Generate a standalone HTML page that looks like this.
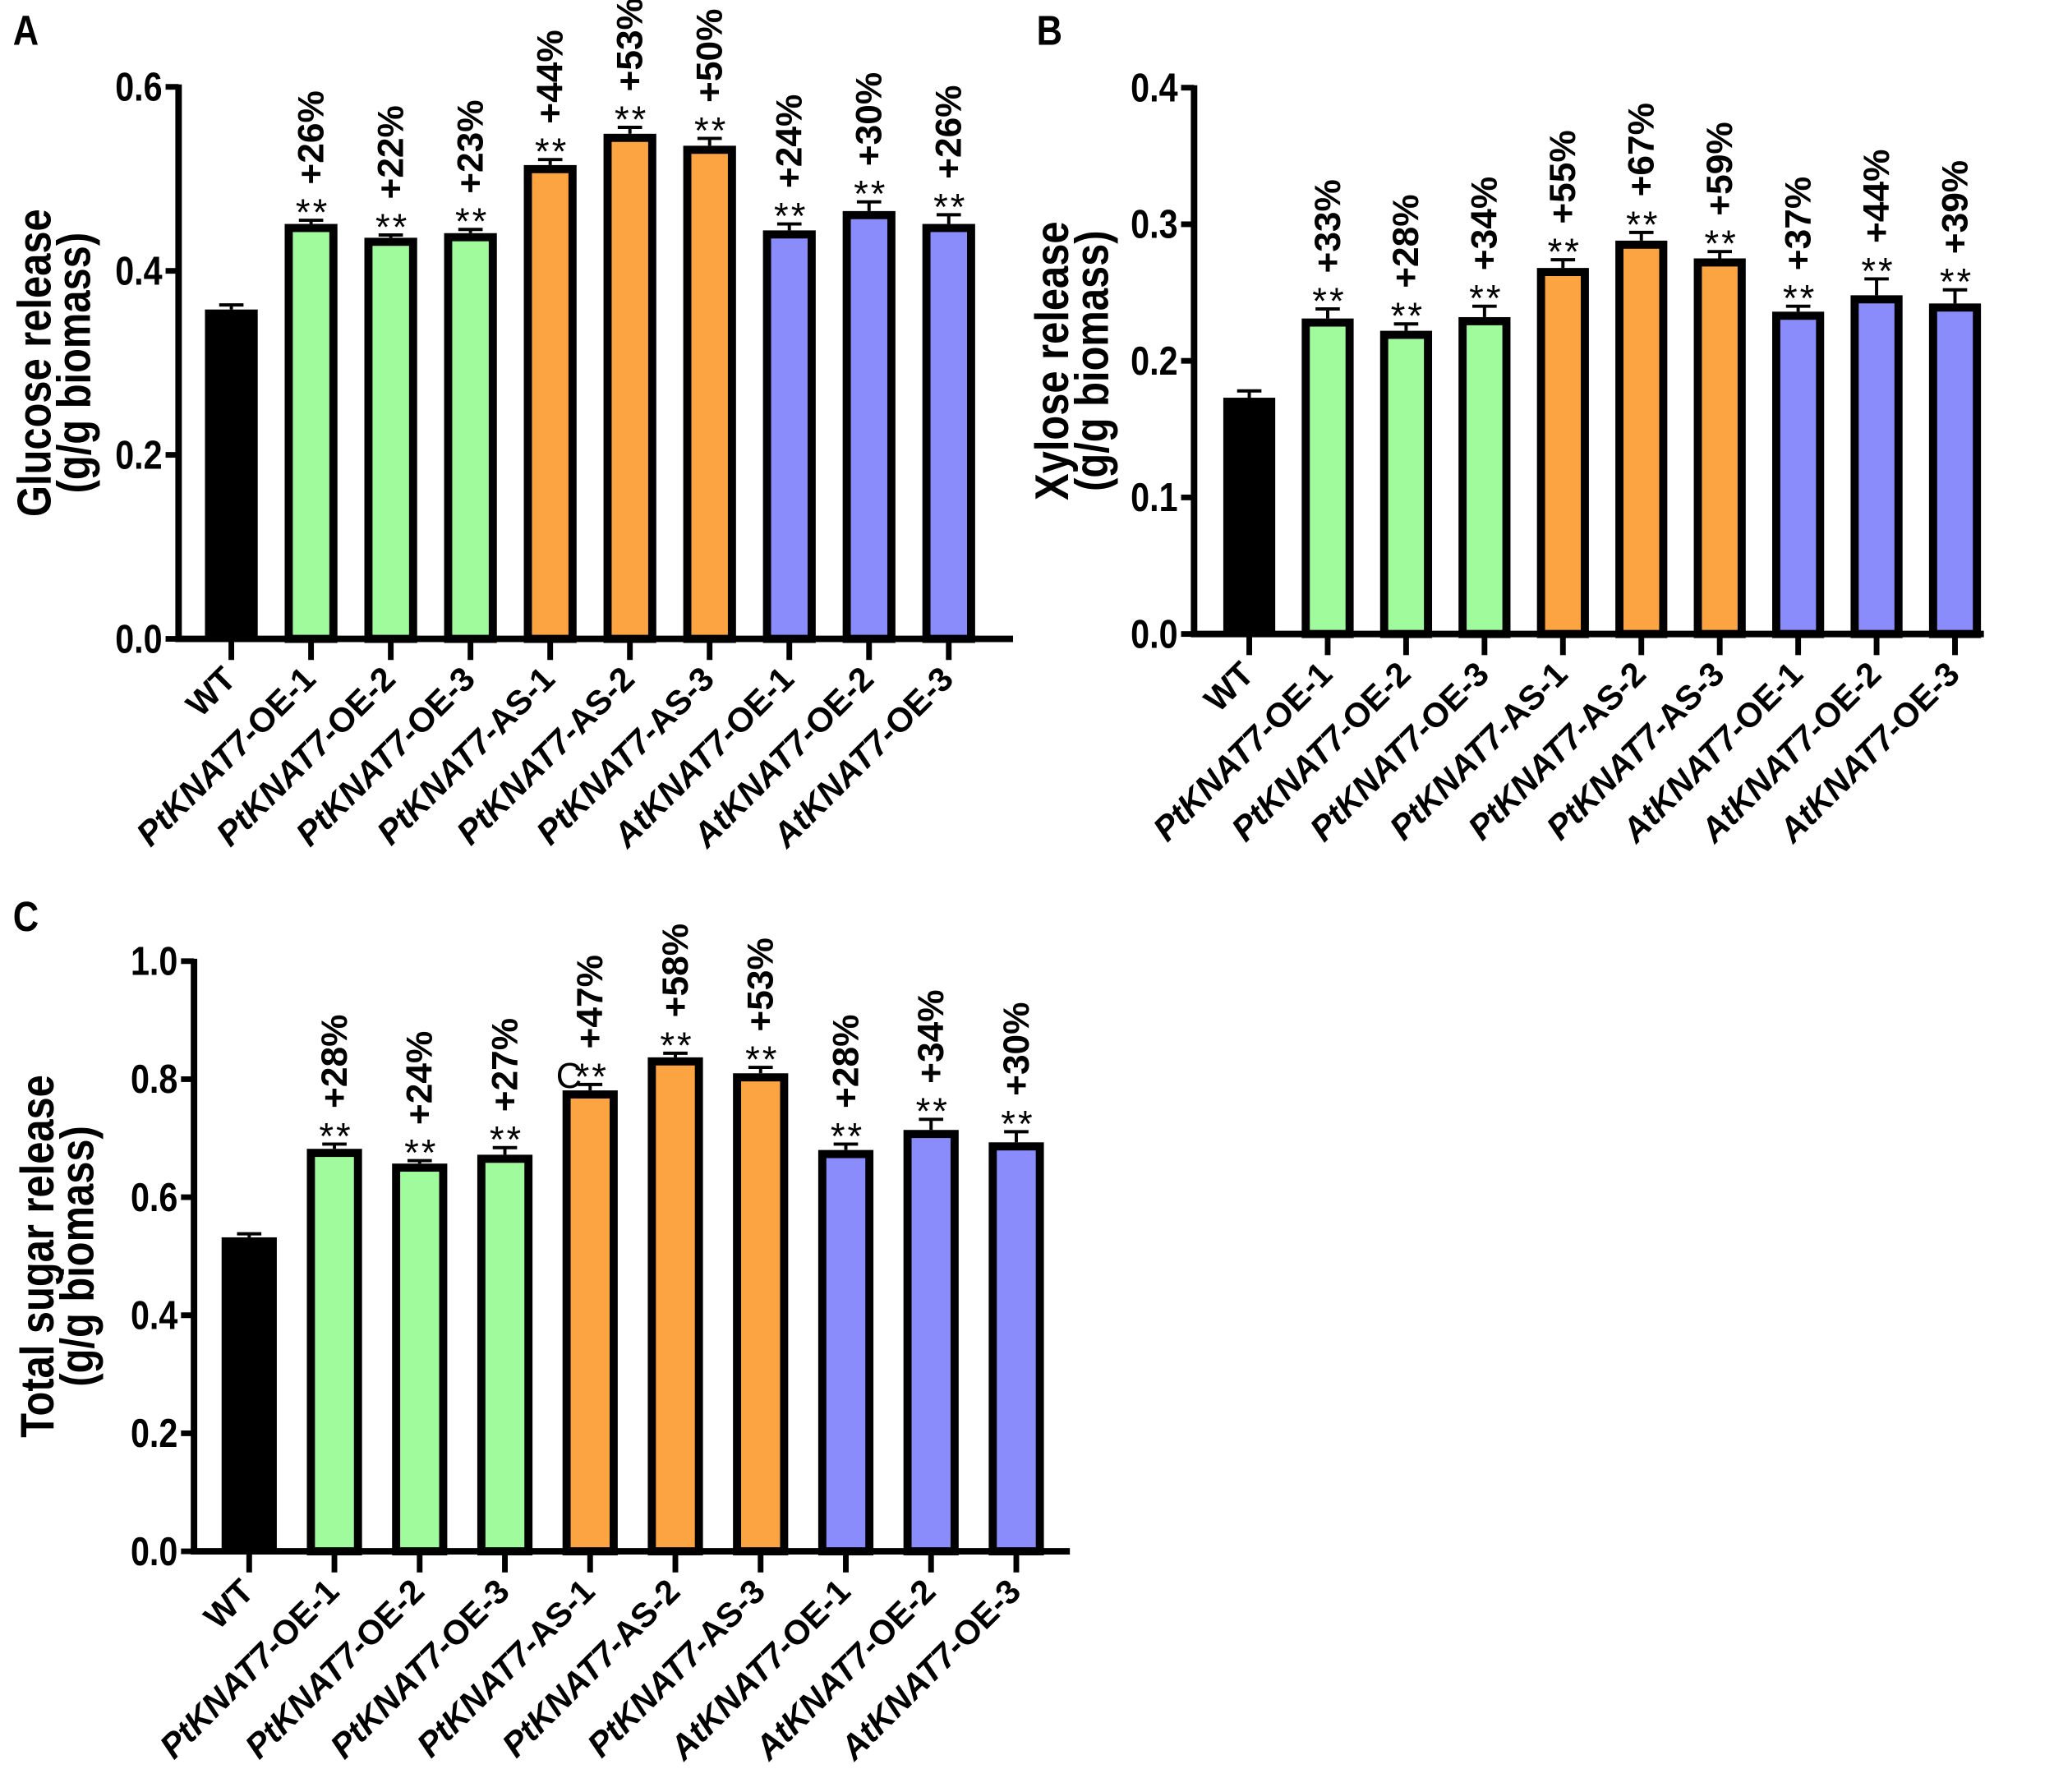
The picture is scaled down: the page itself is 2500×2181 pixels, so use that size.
<!DOCTYPE html>
<html><head><meta charset="utf-8"><style>
html,body{margin:0;padding:0;background:#fff}
svg{display:block;font-family:"Liberation Sans",Arial,sans-serif}
</style></head><body>
<svg width="2500" height="2181" viewBox="0 0 2500 2181" xmlns="http://www.w3.org/2000/svg"><g id="fig" transform="scale(0.988)"></g></svg>
<script>
const categories=["WT","PtKNAT7|-OE-1","PtKNAT7|-OE-2","PtKNAT7|-OE-3","PtKNAT7|-AS-1","PtKNAT7|-AS-2","PtKNAT7|-AS-3","AtKNAT7|-OE-1","AtKNAT7|-OE-2","AtKNAT7|-OE-3"];
const glucoseValues=[0.358,0.451,0.436,0.441,0.515,0.549,0.536,0.444,0.465,0.451];
const glucoseErrors=[0.005,0.004,0.003,0.004,0.006,0.007,0.008,0.007,0.010,0.010];
const glucosePct=["","+26%","+22%","+23%","+44%","+53%","+50%","+24%","+30%","+26%"];
const xyloseValues=[0.173,0.231,0.222,0.232,0.268,0.288,0.275,0.236,0.248,0.242];
const xyloseErrors=[0.005,0.007,0.005,0.008,0.006,0.006,0.005,0.004,0.012,0.010];
const xylosePct=["","+33%","+28%","+34%","+55%","+67%","+59%","+37%","+44%","+39%"];
const totalValues=[0.532,0.682,0.657,0.672,0.781,0.837,0.810,0.680,0.714,0.693];
const totalErrors=[0.006,0.008,0.005,0.012,0.010,0.007,0.010,0.010,0.018,0.018];
const totalPct=["","+28%","+24%","+27%","+47%","+58%","+53%","+28%","+34%","+30%"];
const glucoseTicks=["0.0","0.2","0.4","0.6"];
const xyloseTicks=["0.0","0.1","0.2","0.3","0.4"];
const totalTicks=["0.0","0.2","0.4","0.6","0.8","1.0"];

const NS="http://www.w3.org/2000/svg";
const svg=document.getElementById('fig');
const colors=["#000","#a0fb9c","#a0fb9c","#a0fb9c","#fba441","#fba441","#fba441","#8a8cfb","#8a8cfb","#8a8cfb"];
function el(tag,attrs,parent){const e=document.createElementNS(NS,tag);for(const k in attrs)e.setAttribute(k,attrs[k]);(parent||svg).appendChild(e);return e;}

function panel(cfg,vals,errs,pcts,ticks){
  const g=el('g',{});
  
  
  const ymax=parseFloat(ticks[ticks.length-1]);
  const y=v=>cfg.y0-(v/ymax)*(cfg.y0-cfg.yTop);
  const x=i=>cfg.x0c+i*cfg.step;
  const L=el('text',{x:0,y:0,'font-size':40,'font-weight':'bold',transform:`translate(${cfg.lx} ${cfg.ly}) scale(1.1 1.3)`},g);L.textContent=cfg.letter;
  
  
  vals.forEach((v,i)=>{
    const cx=x(i),w=cfg.bw,top=y(v);
    const e=errs[i];
    const eb=el('g',{},g);
    
    
    el('line',{x1:cx,x2:cx,y1:top,y2:y(v+e),stroke:'#000','stroke-width':4},eb);
    el('line',{x1:cx-15,x2:cx+15,y1:y(v+e),y2:y(v+e),stroke:'#000','stroke-width':4},eb);
    let r;
    if(i===0){r=el('rect',{x:cx-w/2,y:top,width:w,height:cfg.y0-top,fill:'#000'},g);}
    else{r=el('rect',{x:cx-w/2+5,y:top+5,width:w-10,height:cfg.y0-top-5,fill:colors[i],stroke:'#000','stroke-width':10},g);}
    
    
    if(pcts[i]){
      const cap=y(v+e);
      const st=el('text',{x:cx+2,y:cap+6,'font-size':46,'text-anchor':'middle','letter-spacing':3},g);st.textContent='**';
      
      
      const px=cx+15,py=cap-44;
      const pt=el('text',{x:0,y:0,'font-size':40,'font-weight':'bold',transform:`translate(${px} ${py}) rotate(-90) scale(1.12 1.12)`},g);pt.textContent=pcts[i];
      
      
    }
    el('line',{x1:cx,x2:cx,y1:cfg.y0,y2:cfg.y0+26,stroke:'#000','stroke-width':7},g);
    const lx=cx+8,ly=cfg.y0+52;
    const t=el('text',{x:lx,y:ly,'font-size':42,'font-weight':'bold','text-anchor':'end',transform:`rotate(-45 ${lx} ${ly})`},g);
    
    
    const parts=categories[i].split('|');
    if(parts.length===1){t.textContent=parts[0];}
    else{const a=el('tspan',{'font-style':'italic'},t);a.textContent=parts[0];const b=el('tspan',{},t);b.textContent=parts[1];}
  });
  const ya=el('line',{x1:cfg.ax,x2:cfg.ax,y1:cfg.yTop-3,y2:cfg.y0+3,stroke:'#000','stroke-width':8},g);
  
  const xa=el('line',{x1:cfg.ax-4,x2:cfg.xEnd,y1:cfg.y0,y2:cfg.y0,stroke:'#000','stroke-width':8},g);
  
  ticks.forEach(tk=>{
    const ty=y(parseFloat(tk));
    el('line',{x1:cfg.ax-16,x2:cfg.ax,y1:ty,y2:ty,stroke:'#000','stroke-width':7},g);
    const tt=el('text',{x:0,y:0,'font-size':38,'font-weight':'bold','text-anchor':'end',transform:`translate(${cfg.ax-20} ${ty+17}) scale(1.1 1.32)`},g);tt.textContent=tk;
    
    
  });
  const my=(cfg.y0+cfg.yTop)/2;
  const ttl=el('text',{x:0,y:0,'font-size':48,'font-weight':'bold','text-anchor':'middle',transform:`translate(${cfg.tx} ${my}) rotate(-90) scale(1.03 1.22)`},g);
  
  
  const a=el('tspan',{x:0,dy:0},ttl);a.textContent=cfg.t1;
  const b=el('tspan',{x:0,dy:40},ttl);b.textContent='(g/g biomass)';
  return {x,y};
}
panel({name:'panel-a-glucose',letter:'A',lx:16,ly:55,ax:220,yTop:107,y0:787,x0c:285,step:98.2,bw:65,xEnd:1248,tx:62,t1:'Glucose release'},glucoseValues,glucoseErrors,glucosePct,glucoseTicks);
panel({name:'panel-b-xylose',letter:'B',lx:1277,ly:55,ax:1471,yTop:108,y0:781,x0c:1539,step:96.6,bw:64,xEnd:2444,tx:1316,t1:'Xylose release'},xyloseValues,xyloseErrors,xylosePct,xyloseTicks);
const pc=panel({name:'panel-c-total-sugar',letter:'C',lx:16,ly:1147,ax:239,yTop:1184,y0:1911,x0c:307,step:105,bw:68,xEnd:1318,tx:66,t1:'Total sugar release'},totalValues,totalErrors,totalPct,totalTicks);
const stray=el('text',{x:pc.x(4)-42,y:1340,'font-size':44});stray.textContent='C';


</script>
</body></html>
